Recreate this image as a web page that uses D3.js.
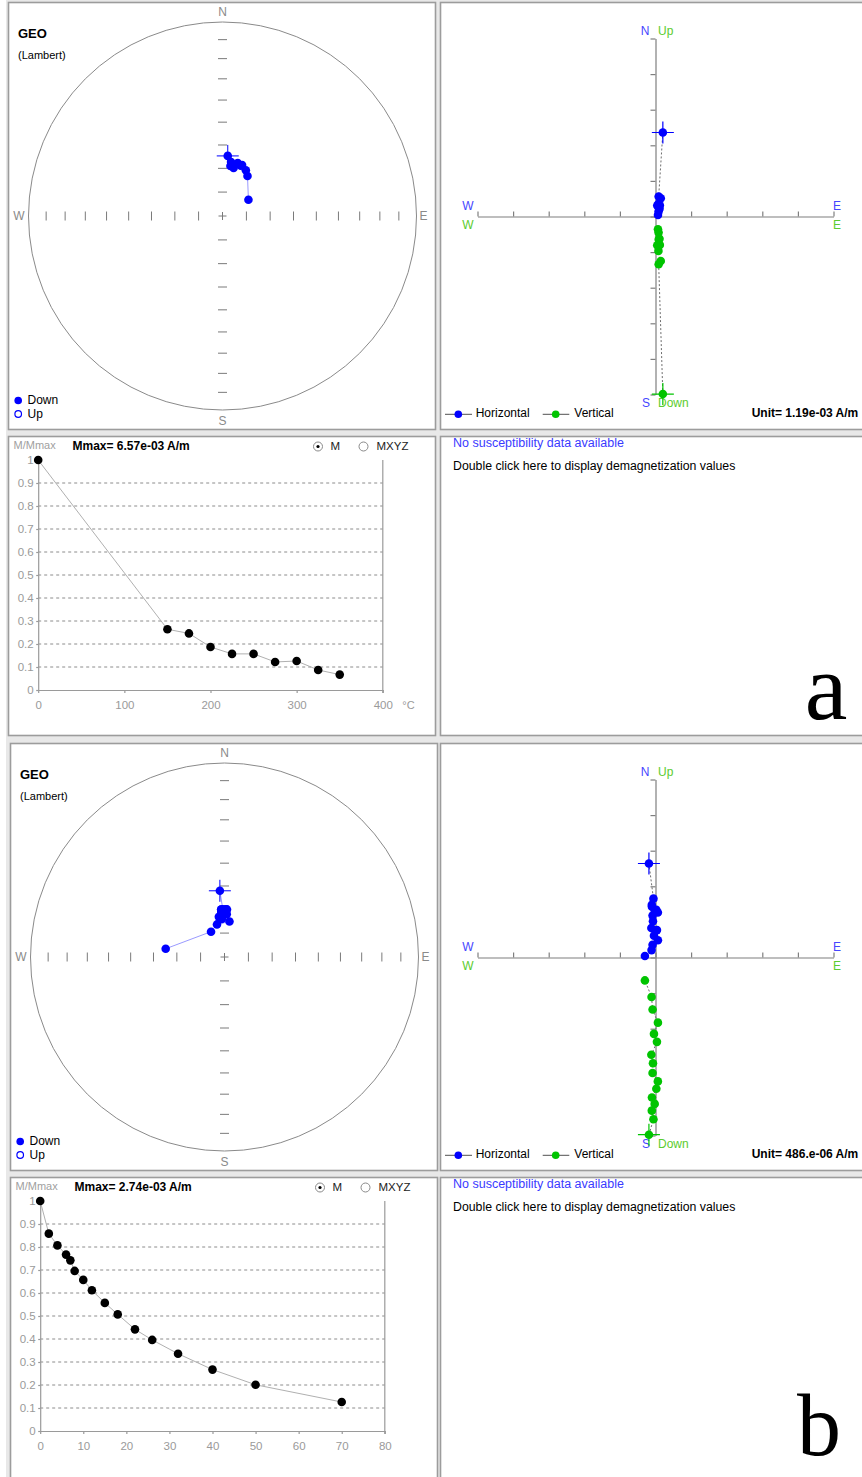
<!DOCTYPE html>
<html>
<head>
<meta charset="utf-8">
<script src="https://cdn.jsdelivr.net/npm/d3@7"></script>
<style>
  body { margin: 0; background: #fff; }
  svg { display: block; font-family: "Liberation Sans", Arial, sans-serif; }
</style>
</head>
<body>
<svg id="chart" width="862" height="1477"></svg>
<script>
//sample a: thermal demagnetization steps (°C)
const stepsA = [0, 150, 175, 200, 225, 250, 275, 300, 325, 350];
const momentA = [1, 0.264, 0.246, 0.187, 0.157, 0.157, 0.122, 0.126, 0.087, 0.067]; //M/Mmax
const decA = [5, 9, 16, 13, 21, 9, 27, 20, 32, 58];
const incA = [64.6, 67, 66.8, 69.3, 67, 68.7, 68.4, 67.5, 70.2, 77.2];
const mmaxA = 6.57e-3;
const mmaxLabelA = 'Mmax= 6.57e-03 A/m';
const unitA = 1.19e-3;
const unitLabelA = 'Unit=  1.19e-03 A/m';
const stepTicksA = [0, 100, 200, 300, 400];

//sample b: AF demagnetization steps (mT)
const stepsB = [0, 2, 4, 6, 7, 8, 10, 12, 15, 18, 22, 26, 32, 40, 50, 70];
const momentB = [1, 0.858, 0.807, 0.767, 0.742, 0.696, 0.657, 0.612, 0.557, 0.507, 0.442, 0.396, 0.336, 0.267, 0.201, 0.126];
const decB = [356, 358, 356, 359, 356, 1, 3, 356, 356, 352, 3, 356, 8, 347, 332, 278];
const incB = [62, 70, 71, 72, 70, 70, 70, 70, 71, 73, 72, 74, 75, 76, 78, 65];
const mmaxB = 2.74e-3;
const mmaxLabelB = 'Mmax= 2.74e-03 A/m';
const unitB = 486e-6;
const unitLabelB = 'Unit=  486.e-06 A/m';
const stepTicksB = [0, 10, 20, 30, 40, 50, 60, 70, 80];

const gridValues = [0.1, 0.2, 0.3, 0.4, 0.5, 0.6, 0.7, 0.8, 0.9];
const yTickValues = [0, 0.1, 0.2, 0.3, 0.4, 0.5, 0.6, 0.7, 0.8, 0.9, 1];
const tickIncs = [10, 20, 30, 40, 50, 60, 70, 80];

const BLUE = '#0000ff', GREEN = '#00c400';
const LBL_BLUE = '#4646ff', LBL_GREEN = '#5ccc2e';

const svg = d3.select('#chart');
svg.append('rect').attr('width', 862).attr('height', 1477).attr('fill', '#fff');
svg.append('rect').attr('x', 6).attr('width', 856).attr('height', 1477).attr('fill', '#e8e8e8');

function txt(g, x, y, s, opt) {
    opt = opt || {};
    return g.append('text')
        .attr('x', x).attr('y', y)
        .attr('dominant-baseline', 'middle')
        .attr('text-anchor', opt.anchor || 'start')
        .attr('font-size', opt.size || 12)
        .attr('font-weight', opt.bold ? 'bold' : 'normal')
        .attr('fill', opt.color || '#000')
        .text(s);
}

function drawFigure(cfg) {
    const g = svg.append('g');
    const sL = cfg.left, sT = cfg.top;   //left column / top row corner
    const rL = 440.5;                    //right column left edge
    const dT = sT + 434;                 //lower row top

    //panel frames
    [[sL, sT, 427, 427], [rL, sT, 440, 427], [sL, dT, 427, cfg.lowerH], [rL, dT, 440, cfg.lowerH]]
        .forEach(p => g.append('rect')
            .attr('x', p[0]).attr('y', p[1]).attr('width', p[2]).attr('height', p[3])
            .attr('fill', '#fff').attr('stroke', '#9c9c9c').attr('stroke-width', 1.6));

    //vector components from dec/inc/intensity
    const comps = cfg.steps.map((s, i) => {
        const m = cfg.moment[i] * cfg.mmax;
        const D = cfg.dec[i] * Math.PI / 180, I = cfg.inc[i] * Math.PI / 180;
        return { north: m * Math.cos(I) * Math.cos(D), east: m * Math.cos(I) * Math.sin(D), down: m * Math.sin(I) };
    });

    // ---------- equal-area stereonet ----------
    const R = 194, cx = sL + 214, cy = sT + 213.5;
    const proj = d3.geoAzimuthalEqualArea()
        .rotate([0, -90])
        .scale(R / Math.SQRT2)
        .translate([cx, cy]);
    const st = g.append('g');
    st.append('circle').attr('cx', cx).attr('cy', cy).attr('r', R)
        .attr('fill', 'none').attr('stroke', '#8a8a8a').attr('stroke-width', 1);

    //inclination ticks along N, E, S, W
    [0, 90, 180, 270].forEach(az => {
        tickIncs.forEach(inc => {
            const p = proj([180 - az, inc]);
            const vert = (az === 90 || az === 270);
            st.append('line')
                .attr('x1', vert ? p[0] : p[0] - 4.5).attr('x2', vert ? p[0] : p[0] + 4.5)
                .attr('y1', vert ? p[1] - 4.5 : p[1]).attr('y2', vert ? p[1] + 4.5 : p[1])
                .attr('stroke', '#7a7a7a').attr('stroke-width', 1);
        });
    });
    const c0 = proj([0, 90]);
    st.append('path').attr('d', `M${c0[0] - 4},${c0[1]}H${c0[0] + 4}M${c0[0]},${c0[1] - 4}V${c0[1] + 4}`)
        .attr('stroke', '#7a7a7a').attr('stroke-width', 1);

    txt(st, cx, sT + 10, 'N', { anchor: 'middle', color: '#8a8a8a' });
    txt(st, cx, cy + 206, 'S', { anchor: 'middle', color: '#8a8a8a' });
    txt(st, cx - 203.5, cy + 1, 'W', { anchor: 'middle', color: '#8a8a8a' });
    txt(st, cx + 201, cy + 1, 'E', { anchor: 'middle', color: '#8a8a8a' });
    txt(st, sL + 9.5, sT + 32.5, 'GEO', { bold: true, size: 13 });
    txt(st, sL + 9.5, sT + 53.2, '(Lambert)', { size: 11 });

    const sPts = cfg.dec.map((d, i) => proj([180 - d, cfg.inc[i]]));
    st.append('path').attr('d', d3.line()(sPts))
        .attr('fill', 'none').attr('stroke', '#9a9aff').attr('stroke-width', 1);
    const n0 = sPts[0];
    st.append('path').attr('d', `M${n0[0] - 11},${n0[1]}H${n0[0] + 11}M${n0[0]},${n0[1] - 11}V${n0[1] + 11}`)
        .attr('stroke', BLUE).attr('stroke-width', 1);
    st.selectAll('.spt').data(sPts).enter().append('circle')
        .attr('cx', d => d[0]).attr('cy', d => d[1]).attr('r', 4.3).attr('fill', BLUE);

    //legend
    st.append('circle').attr('cx', sL + 9.7).attr('cy', sT + 398).attr('r', 3.8).attr('fill', BLUE);
    txt(st, sL + 19, sT + 398.5, 'Down');
    st.append('circle').attr('cx', sL + 9.7).attr('cy', sT + 411.5).attr('r', 3.3)
        .attr('fill', '#fff').attr('stroke', BLUE).attr('stroke-width', 1.2);
    txt(st, sL + 19, sT + 412, 'Up');

    // ---------- Zijderveld diagram ----------
    const zg = g.append('g');
    const ox = 655.5, oy = sT + 214, half = 178;
    const zx = d3.scaleLinear().domain([-5 * cfg.unit, 5 * cfg.unit]).range([ox - half, ox + half]);
    const zy = d3.scaleLinear().domain([-5 * cfg.unit, 5 * cfg.unit]).range([oy + half, oy - half]);
    const tv = d3.range(-5, 6).map(i => i * cfg.unit);

    const ax1 = zg.append('g').attr('transform', `translate(0,${oy})`)
        .call(d3.axisTop(zx).tickValues(tv).tickSize(5).tickSizeOuter(0).tickFormat(''));
    const ax2 = zg.append('g').attr('transform', `translate(${ox},0)`)
        .call(d3.axisLeft(zy).tickValues(tv).tickSize(5).tickSizeOuter(0).tickFormat(''));
    [ax1, ax2].forEach(a => {
        a.selectAll('path, line').attr('stroke', '#7f7f7f').attr('stroke-width', 1.2);
    });

    txt(zg, ox - 10.5, oy - 185, 'N', { anchor: 'middle', color: LBL_BLUE });
    txt(zg, ox + 2.5, oy - 185, 'Up', { color: LBL_GREEN });
    txt(zg, ox - 187.5, oy - 9.5, 'W', { anchor: 'middle', color: LBL_BLUE });
    txt(zg, ox - 187.5, oy + 9, 'W', { anchor: 'middle', color: LBL_GREEN });
    txt(zg, ox + 181.5, oy - 9.5, 'E', { anchor: 'middle', color: LBL_BLUE });
    txt(zg, ox + 181.5, oy + 9, 'E', { anchor: 'middle', color: LBL_GREEN });
    txt(zg, ox - 9.5, oy + 187, 'S', { anchor: 'middle', color: LBL_BLUE });
    txt(zg, ox + 2.5, oy + 187, 'Down', { color: LBL_GREEN });

    const hPts = comps.map(c => [zx(c.east), zy(c.north)]);
    const vPts = comps.map(c => [zx(c.east), zy(-c.down)]);
    [hPts, vPts].forEach(pts => {
        zg.append('path').attr('d', d3.line()(pts))
            .attr('fill', 'none').attr('stroke', '#6e6e6e').attr('stroke-width', 1)
            .attr('stroke-dasharray', '2,2');
    });
    [[hPts, BLUE], [vPts, GREEN]].forEach(([pts, col]) => {
        const p = pts[0];
        zg.append('path').attr('d', `M${p[0] - 11},${p[1]}H${p[0] + 11}M${p[0]},${p[1] - 11}V${p[1] + 11}`)
            .attr('stroke', col).attr('stroke-width', 1.2);
        zg.selectAll(null).data(pts).enter().append('circle')
            .attr('cx', d => d[0]).attr('cy', d => d[1]).attr('r', 4.3).attr('fill', col);
    });

    //legend
    const ly = sT + 411.8;
    [[445, 472, 458.3, BLUE, 475.7, 'Horizontal'], [542.7, 569.3, 555.7, GREEN, 574.3, 'Vertical']]
        .forEach(l => {
            zg.append('line').attr('x1', l[0]).attr('x2', l[1]).attr('y1', ly).attr('y2', ly)
                .attr('stroke', '#505050').attr('stroke-width', 1);
            zg.append('circle').attr('cx', l[2]).attr('cy', ly).attr('r', 3.8).attr('fill', l[3]);
            txt(zg, l[4], ly, l[5]);
        });
    txt(zg, 858.3, ly, cfg.unitLabel, { anchor: 'end', bold: true });

    // ---------- intensity decay plot ----------
    const dg = g.append('g');
    const pl = sL + 29.7, pr = sL + 374.3, pt = dT + 23.5, pb = dT + 253.5;
    const dx = d3.scaleLinear().domain([cfg.stepTicks[0], cfg.stepTicks[cfg.stepTicks.length - 1]]).range([pl, pr]);
    const dy = d3.scaleLinear().domain([0, 1]).range([pb, pt]);

    dg.selectAll(null).data(gridValues).enter().append('line')
        .attr('x1', pl).attr('x2', pr).attr('y1', d => dy(d)).attr('y2', d => dy(d))
        .attr('stroke', '#8c8c8c').attr('stroke-width', 1).attr('stroke-dasharray', '3,3');
    dg.append('line').attr('x1', pr).attr('x2', pr).attr('y1', pt).attr('y2', pb + 3)
        .attr('stroke', '#9a9a9a').attr('stroke-width', 1.2);

    const xa = dg.append('g').attr('transform', `translate(0,${pb})`)
        .call(d3.axisBottom(dx).tickValues(cfg.stepTicks).tickSize(3).tickSizeOuter(0).tickPadding(8));
    const ya = dg.append('g').attr('transform', `translate(${pl},0)`)
        .call(d3.axisLeft(dy).tickValues(yTickValues).tickSize(2).tickSizeOuter(0).tickPadding(2.5)
            .tickFormat(d => String(+d.toFixed(1))));
    [xa, ya].forEach(a => {
        a.selectAll('path, line').attr('stroke', '#9a9a9a').attr('stroke-width', 1.2);
        a.selectAll('text').attr('fill', '#9a9a9a').attr('font-size', 11.5)
            .attr('font-family', '"Liberation Sans", Arial, sans-serif');
    });
    if (cfg.stepUnit) txt(dg, pr + 19.5, pb + 16.5, cfg.stepUnit, { color: '#9a9a9a', size: 11 });

    const mPts = cfg.steps.map((s, i) => [dx(s), dy(cfg.moment[i])]);
    dg.append('path').attr('d', d3.line()(mPts))
        .attr('fill', 'none').attr('stroke', '#b0b0b0').attr('stroke-width', 1);
    dg.selectAll(null).data(mPts).enter().append('circle')
        .attr('cx', d => d[0]).attr('cy', d => d[1]).attr('r', 4.3).attr('fill', '#000');

    //header
    const hy = dT + 10;
    txt(dg, sL + 5, hy, 'M/Mmax', { color: '#a0a0a0', size: 11 });
    txt(dg, sL + 64, hy, cfg.mmaxLabel, { bold: true });
    dg.append('circle').attr('cx', sL + 309.5).attr('cy', hy).attr('r', 4.5)
        .attr('fill', '#fff').attr('stroke', '#8a8a8a').attr('stroke-width', 1);
    dg.append('circle').attr('cx', sL + 309.5).attr('cy', hy).attr('r', 1.6).attr('fill', '#000');
    txt(dg, sL + 322, hy, 'M', { size: 11.5, color: '#222' });
    dg.append('circle').attr('cx', sL + 355).attr('cy', hy).attr('r', 4.5)
        .attr('fill', '#fff').attr('stroke', '#8a8a8a').attr('stroke-width', 1);
    txt(dg, sL + 368, hy, 'MXYZ', { size: 11.5, color: '#222' });

    // ---------- text panel ----------
    txt(g, 453, dT + 7, 'No susceptibility data available', { color: '#3a3aff', size: 12.5 });
    txt(g, 453, dT + 30, 'Double click here to display demagnetization values', { size: 12.3 });
    g.append('text').attr('x', cfg.letterX).attr('y', cfg.letterY)
        .attr('text-anchor', 'middle')
        .attr('font-family', '"Liberation Serif", "Times New Roman", serif')
        .attr('font-size', cfg.letterSize).attr('fill', '#000')
        .text(cfg.letter);
}

drawFigure({
    left: 8.5, top: 2.5, lowerH: 299,
    steps: stepsA, moment: momentA, dec: decA, inc: incA,
    mmax: mmaxA, mmaxLabel: mmaxLabelA, unit: unitA, unitLabel: unitLabelA,
    stepTicks: stepTicksA, stepUnit: '°C',
    letter: 'a', letterX: 826, letterY: 719, letterSize: 96
});
drawFigure({
    left: 10.5, top: 743.5, lowerH: 310,
    steps: stepsB, moment: momentB, dec: decB, inc: incB,
    mmax: mmaxB, mmaxLabel: mmaxLabelB, unit: unitB, unitLabel: unitLabelB,
    stepTicks: stepTicksB, stepUnit: '',
    letter: 'b', letterX: 819, letterY: 1455, letterSize: 88
});
</script>
</body>
</html>
